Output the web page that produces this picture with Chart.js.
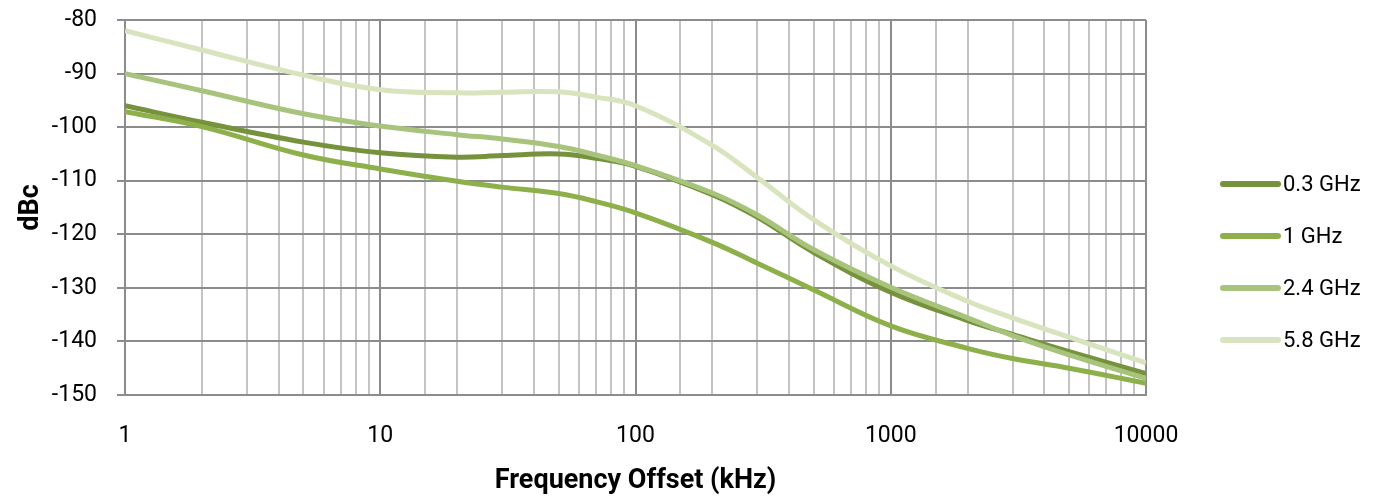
<!DOCTYPE html>
<html>
<head>
<meta charset="utf-8">
<script src="https://cdn.jsdelivr.net/npm/chart.js@4/dist/chart.umd.min.js"></script>
<style>
  html, body { margin: 0; padding: 0; background: #fff; }
  #wrap { width: 1375px; height: 499px; }
</style>
</head>
<body>
<div id="wrap"><canvas id="phaseNoise" width="1375" height="499"></canvas></div>
<script>
// offsets in kHz, values in dBc
const freqKHz = [1, 2, 5, 10, 20, 30, 50, 70, 100, 200, 300, 500, 1000, 2000, 3000, 5000, 10000];
const ghz03 = [-96, -99.1, -102.8, -104.8, -105.6, -105.3, -105, -105.8, -107.3, -112.6, -116.8, -123.4, -130.8, -136.1, -138.7, -141.9, -146];
const ghz1 = [-97.1, -99.9, -105.2, -107.8, -110.1, -111.2, -112.4, -113.9, -116, -121.5, -125.4, -130.4, -137.1, -141.3, -143.2, -145, -147.8];
const ghz24 = [-90, -93.2, -97.5, -99.8, -101.4, -102.2, -103.6, -105.2, -107.2, -112.3, -116.4, -122.9, -129.9, -135.6, -138.9, -142.5, -146.9];
const ghz58 = [-82, -85.6, -90.3, -93, -93.6, -93.5, -93.4, -94.4, -96, -103.4, -109.4, -117.3, -125.9, -132.5, -135.6, -139.2, -144];
const seriesNames = ['0.3 GHz', '1 GHz', '2.4 GHz', '5.8 GHz'];
const xTicks = [1, 10, 100, 1000, 10000];
const yMin = -150, yMax = -80, yStep = 10;

const fontFam = 'Roboto, "Liberation Sans", sans-serif';
const colors = ['#76923C', '#8DB04B', '#A8C47C', '#D7E4BD'];

function toPoints(values) {
    return freqKHz.map((f, i) => ({ x: f, y: values[i] }));
}

const allSeries = [ghz03, ghz1, ghz24, ghz58];

const datasets = allSeries.map((vals, i) => ({
    label: seriesNames[i],
    data: toPoints(vals),
    borderColor: colors[i],
    backgroundColor: colors[i],
    borderWidth: 5,
    pointRadius: 0,
    fill: false,
    tension: 0.4,
    order: 4 - i
}));

// right side legend, drawn by hand so it sits where the original has it
const sideLegend = {
    id: 'sideLegend',
    afterDraw(chart) {
        const ctx = chart.ctx;
        const rowY = [184, 236, 288, 340];
        ctx.save();
        chart.data.datasets.forEach((ds, i) => {
            const y = rowY[i];
            ctx.strokeStyle = ds.borderColor;
            ctx.lineWidth = 6;
            ctx.lineCap = 'round';
            ctx.beginPath();
            ctx.moveTo(1223, y);
            ctx.lineTo(1278, y);
            ctx.stroke();
            ctx.fillStyle = '#000';
            ctx.font = '22px ' + fontFam;
            ctx.textBaseline = 'middle';
            ctx.textAlign = 'left';
            ctx.fillText(ds.label, 1283, y + 1);
        });
        ctx.restore();
    }
};

const ctx = document.getElementById('phaseNoise').getContext('2d');
new Chart(ctx, {
    type: 'line',
    data: { datasets: datasets },
    plugins: [sideLegend],
    options: {
        responsive: false,
        animation: false,
        devicePixelRatio: 1,
        layout: { padding: { top: 20, right: 229, left: 0, bottom: 0 } },
        plugins: {
            legend: { display: false },
            tooltip: { enabled: false }
        },
        scales: {
            x: {
                type: 'logarithmic',
                min: xTicks[0],
                max: xTicks[xTicks.length - 1],
                afterFit(scale) { scale.height = 104; },
                border: { display: true, color: '#8c8c8c', width: 2 },
                grid: {
                    drawTicks: false,
                    lineWidth: 2,
                    color: c => xTicks.includes(c.tick && c.tick.value) ? '#8c8c8c' : '#c4c4c4'
                },
                ticks: {
                    autoSkip: false,
                    maxRotation: 0,
                    padding: 27,
                    color: '#000',
                    font: { family: fontFam, size: 23 },
                    callback: v => xTicks.includes(v) ? String(v) : ''
                },
                title: {
                    display: true,
                    text: 'Frequency Offset (kHz)',
                    color: '#000',
                    font: { family: fontFam, size: 27, weight: 'bold' },
                    padding: { top: 0, bottom: 2 }
                }
            },
            y: {
                min: yMin,
                max: yMax,
                afterFit(scale) {
                    scale.width = 125;
                    scale.paddingTop = 0;
                    scale.paddingBottom = 0;
                },
                border: { display: true, color: '#8c8c8c', width: 2 },
                grid: {
                    color: '#8c8c8c',
                    lineWidth: 2,
                    tickLength: 8
                },
                ticks: {
                    stepSize: yStep,
                    padding: 20,
                    color: '#000',
                    font: { family: fontFam, size: 23 }
                },
                title: {
                    display: true,
                    text: 'dBc',
                    color: '#000',
                    font: { family: fontFam, size: 27, weight: 'bold' },
                    padding: { top: 15, bottom: 0 }
                }
            }
        }
    }
});
</script>
</body>
</html>
